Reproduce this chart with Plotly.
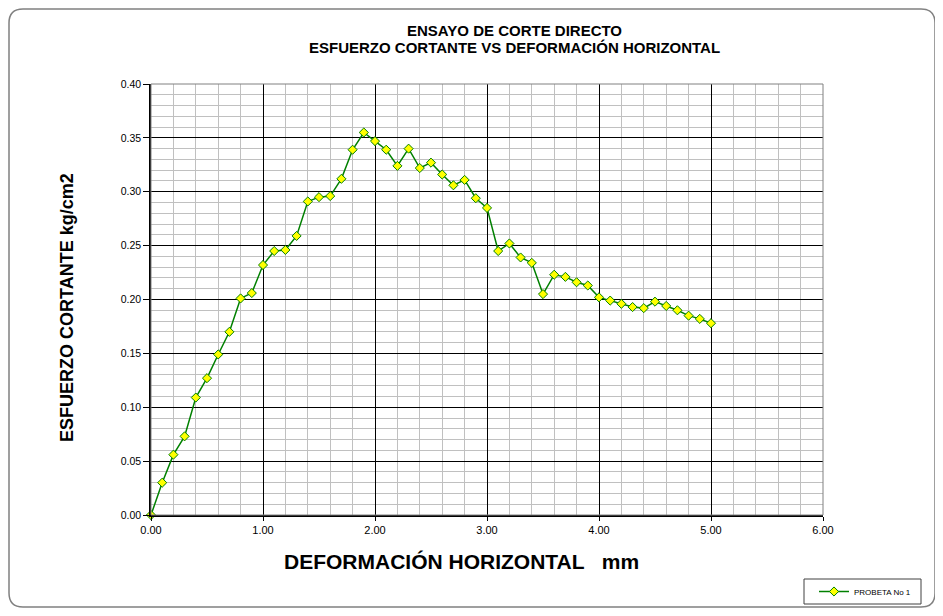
import plotly.graph_objects as go

deformacion = [0.0, 0.1, 0.2, 0.3, 0.4, 0.5, 0.6, 0.7, 0.8, 0.9,
               1.0, 1.1, 1.2, 1.3, 1.4, 1.5, 1.6, 1.7, 1.8, 1.9,
               2.0, 2.1, 2.2, 2.3, 2.4, 2.5, 2.6, 2.7, 2.8, 2.9,
               3.0, 3.1, 3.2, 3.3, 3.4, 3.5, 3.6, 3.7, 3.8, 3.9,
               4.0, 4.1, 4.2, 4.3, 4.4, 4.5, 4.6, 4.7, 4.8, 4.9, 5.0]
esfuerzo = [0.000, 0.030, 0.056, 0.073, 0.109, 0.127, 0.149, 0.170, 0.201, 0.206,
            0.232, 0.245, 0.246, 0.259, 0.291, 0.295, 0.296, 0.312, 0.339, 0.355,
            0.347, 0.339, 0.324, 0.340, 0.322, 0.327, 0.316, 0.306, 0.311, 0.294,
            0.285, 0.245, 0.252, 0.239, 0.234, 0.205, 0.223, 0.221, 0.216, 0.213,
            0.202, 0.199, 0.196, 0.193, 0.192, 0.198, 0.194, 0.190, 0.185, 0.182, 0.178]
serie = "PROBETA No 1"
titulo_1 = "ENSAYO DE CORTE DIRECTO"
titulo_2 = "ESFUERZO CORTANTE VS DEFORMACIÓN HORIZONTAL"
titulo_x = "DEFORMACIÓN HORIZONTAL   mm"
titulo_y = "ESFUERZO CORTANTE kg/cm2"

FONT = "Arial, Liberation Sans, sans-serif"
OFF = 8  # page body margin
W, H = 943 - OFF, 616 - 2 * OFF
# plot area in page pixels
PL, PR, PT, PB = 151, 823, 84, 515
L, R, T, B = PL - OFF, W - (PR - OFF), PT - OFF, H - (PB - OFF)
pw, ph = W - L - R, H - T - B


def px(x):
    return (x - OFF - L) / pw


def py(y):
    return (H - B - (y - OFF)) / ph


fig = go.Figure()
fig.add_trace(go.Scatter(
    x=deformacion, y=esfuerzo, name=serie, mode="lines+markers",
    line=dict(color="#008000", width=1.5),
    marker=dict(symbol="diamond", size=7, color="#ffff00",
                line=dict(color="#008000", width=1)),
    cliponaxis=False,
))

# rounded outer frame (page coords)
x0, y0, x1, y1, r = 9, 9, 935, 607, 14
path = (f"M {px(x0+r)},{py(y0)} L {px(x1-r)},{py(y0)} Q {px(x1)},{py(y0)} {px(x1)},{py(y0+r)} "
        f"L {px(x1)},{py(y1-r)} Q {px(x1)},{py(y1)} {px(x1-r)},{py(y1)} "
        f"L {px(x0+r)},{py(y1)} Q {px(x0)},{py(y1)} {px(x0)},{py(y1-r)} "
        f"L {px(x0)},{py(y0+r)} Q {px(x0)},{py(y0)} {px(x0+r)},{py(y0)} Z")
fig.add_shape(type="path", path=path, xref="paper", yref="paper",
              line=dict(color="#808080", width=1.5), layer="below")
fig.add_shape(type="rect", xref="paper", yref="paper", x0=0, y0=0, x1=1, y1=1,
              line=dict(color="#808080", width=1), layer="above")
# legend box
fig.add_shape(type="rect", xref="paper", yref="paper",
              x0=px(804), x1=px(921), y0=py(604), y1=py(579),
              line=dict(color="#404040", width=1), fillcolor="#ffffff", layer="below")

fig.add_annotation(text="<b>" + titulo_1 + "</b>", xref="paper", yref="paper",
                   x=px(514), y=py(30), xanchor="center", yanchor="middle",
                   showarrow=False, font=dict(family=FONT, size=15, color="#000"))
fig.add_annotation(text="<b>" + titulo_2 + "</b>", xref="paper", yref="paper",
                   x=px(514), y=py(48), xanchor="center", yanchor="middle",
                   showarrow=False, font=dict(family=FONT, size=15, color="#000"))
fig.add_annotation(text="<b>" + titulo_x + "</b>", xref="paper", yref="paper",
                   x=px(461), y=py(561), xanchor="center", yanchor="middle",
                   showarrow=False, font=dict(family=FONT, size=21, color="#000"))
fig.add_annotation(text="<b>" + titulo_y + "</b>", xref="paper", yref="paper",
                   x=px(67), y=py(308), xanchor="center", yanchor="middle",
                   showarrow=False, textangle=-90,
                   font=dict(family=FONT, size=18, color="#000"))

fig.update_xaxes(range=[0, 6], dtick=1, tick0=0, tickformat=".2f",
                 showgrid=True, gridcolor="#000000", gridwidth=1,
                 showline=True, linecolor="#000000", linewidth=1.5,
                 ticks="outside", ticklen=4, tickcolor="#000",
                 tickfont=dict(family=FONT, size=11, color="#000"),
                 minor=dict(dtick=0.2, showgrid=True, gridcolor="#c0c0c0", gridwidth=1),
                 zeroline=False, fixedrange=True)
fig.update_yaxes(range=[0, 0.4], dtick=0.05, tick0=0, tickformat=".2f",
                 showgrid=True, gridcolor="#000000", gridwidth=1,
                 showline=True, linecolor="#000000", linewidth=1.5,
                 ticks="outside", ticklen=6, tickcolor="#000",
                 tickfont=dict(family=FONT, size=10.5, color="#000"),
                 minor=dict(dtick=0.01, showgrid=True, gridcolor="#c0c0c0", gridwidth=1),
                 zeroline=False, fixedrange=True)

fig.update_layout(
    width=W, height=H, autosize=False,
    margin=dict(l=L, r=R, t=T, b=B, autoexpand=False),
    paper_bgcolor="#ffffff", plot_bgcolor="#ffffff",
    font=dict(family=FONT, color="#000"),
    showlegend=True,
    legend=dict(x=px(814), y=py(591.5), xanchor="left", yanchor="middle",
                borderwidth=0, bgcolor="rgba(0,0,0,0)",
                font=dict(family=FONT, size=8, color="#000"),
                itemwidth=30),
)

fig.write_html("out.html")
